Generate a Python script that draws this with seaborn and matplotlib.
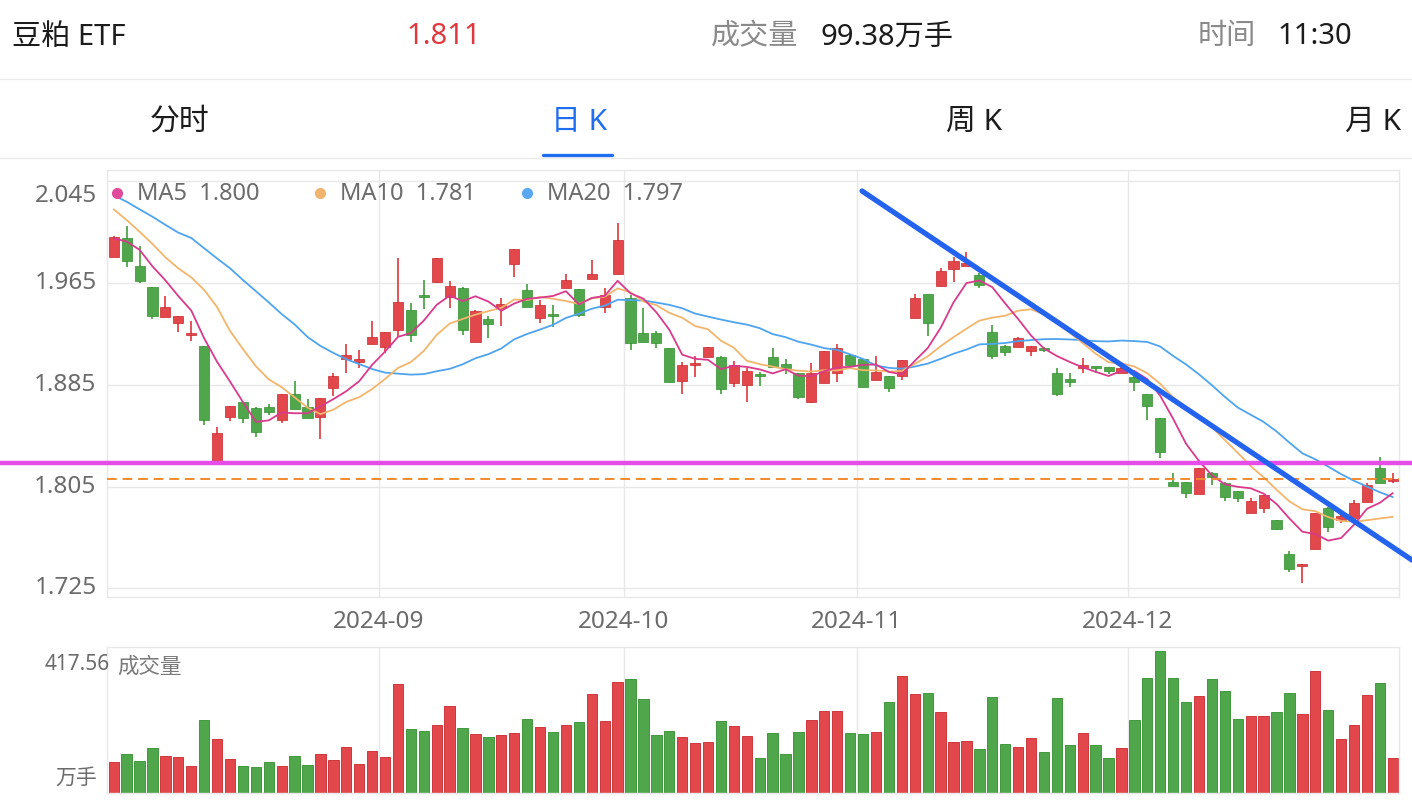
import numpy as np
import pandas as pd
import matplotlib
matplotlib.use("Agg")
import matplotlib.pyplot as plt
import matplotlib.transforms as mtransforms
from matplotlib.lines import Line2D
import seaborn as sns

# ---------------- data ----------------
opens = [1.9857, 2.0001, 1.9786, 1.9621, 1.9380, 1.9338, 1.9238, 1.9157, 1.8235, 1.8599,
         1.8717, 1.8665, 1.8675, 1.8573, 1.8777, 1.8678, 1.8599, 1.8822, 1.9055, 1.9029,
         1.9170, 1.9149, 1.9280, 1.9438, 1.9555, 1.9655, 1.9542, 1.9608, 1.9189, 1.9367,
         1.9451, 1.9799, 1.9595, 1.9372, 1.9404, 1.9608, 1.9600, 1.9681, 1.9464, 1.9718,
         1.9529, 1.9254, 1.9259, 1.9142, 1.8880, 1.9008, 1.9071, 1.9071, 1.8861, 1.8848,
         1.8935, 1.9071, 1.9011, 1.8945, 1.8717, 1.8861, 1.8940, 1.9084, 1.9050, 1.8887,
         1.8919, 1.8919, 1.9372, 1.9561, 1.9626, 1.9760, 1.9783, 1.9712, 1.9267, 1.9155,
         1.9149, 1.9118, 1.9140, 1.8944, 1.8892, 1.8978, 1.8999, 1.8992, 1.8939, 1.8908,
         1.8777, 1.8586, 1.8088, 1.8083, 1.7991, 1.8153, 1.8075, 1.8017, 1.7839, 1.7878,
         1.7787, 1.7517, 1.7428, 1.7556, 1.7878, 1.7787, 1.7800, 1.7931, 1.8193, 1.8096]
highs = [2.0019, 2.0098, 1.9941, 1.9621, 1.9548, 1.9390, 1.9354, 1.9157, 1.8520, 1.8686,
         1.8717, 1.8678, 1.8699, 1.8777, 1.8880, 1.8738, 1.8746, 1.8940, 1.9170, 1.9123,
         1.9351, 1.9267, 1.9849, 1.9490, 1.9673, 1.9849, 1.9665, 1.9621, 1.9438, 1.9393,
         1.9529, 1.9917, 1.9642, 1.9516, 1.9477, 1.9720, 1.9600, 1.9830, 1.9608, 2.0119,
         1.9555, 1.9451, 1.9273, 1.9142, 1.9026, 1.9079, 1.9149, 1.9075, 1.9037, 1.8979,
         1.8953, 1.9142, 1.9050, 1.8945, 1.9024, 1.9115, 1.9170, 1.9084, 1.9050, 1.9076,
         1.8919, 1.9045, 1.9561, 1.9561, 1.9770, 1.9851, 1.9891, 1.9725, 1.9319, 1.9165,
         1.9225, 1.9156, 1.9150, 1.8978, 1.8939, 1.9057, 1.8999, 1.8992, 1.8990, 1.8952,
         1.8777, 1.8586, 1.8153, 1.8083, 1.8198, 1.8166, 1.8088, 1.8017, 1.7957, 1.7983,
         1.7787, 1.7543, 1.7438, 1.7844, 1.7891, 1.7826, 1.7944, 1.8080, 1.8279, 1.8153]
lows = [1.9857, 1.9778, 1.9652, 1.9364, 1.9380, 1.9265, 1.9197, 1.8534, 1.8220, 1.8565,
        1.8552, 1.8442, 1.8612, 1.8547, 1.8657, 1.8586, 1.8426, 1.8764, 1.8945, 1.8979,
        1.9170, 1.9102, 1.9228, 1.9189, 1.9443, 1.9647, 1.9456, 1.9241, 1.9189, 1.9215,
        1.9312, 1.9694, 1.9464, 1.9338, 1.9307, 1.9608, 1.9385, 1.9681, 1.9411, 1.9718,
        1.9123, 1.9189, 1.9136, 1.8874, 1.8777, 1.8914, 1.9071, 1.8775, 1.8835, 1.8717,
        1.8840, 1.8992, 1.8935, 1.8736, 1.8704, 1.8861, 1.8874, 1.9005, 1.8835, 1.8887,
        1.8796, 1.8887, 1.9372, 1.9233, 1.9626, 1.9660, 1.9783, 1.9607, 1.9055, 1.9077,
        1.9149, 1.9076, 1.9106, 1.8764, 1.8834, 1.8939, 1.8939, 1.8931, 1.8939, 1.8803,
        1.8572, 1.8271, 1.8056, 1.7962, 1.7991, 1.8062, 1.7936, 1.7926, 1.7839, 1.7839,
        1.7710, 1.7381, 1.7289, 1.7556, 1.7695, 1.7766, 1.7800, 1.7931, 1.8080, 1.8075]
closes = [2.0009, 1.9825, 1.9665, 1.9393, 1.9459, 1.9390, 1.9259, 1.8573, 1.8468, 1.8686,
          1.8586, 1.8476, 1.8633, 1.8777, 1.8657, 1.8586, 1.8746, 1.8919, 1.9087, 1.9050,
          1.9228, 1.9267, 1.9498, 1.9238, 1.9537, 1.9849, 1.9629, 1.9280, 1.9430, 1.9328,
          1.9485, 1.9917, 1.9464, 1.9477, 1.9393, 1.9673, 1.9398, 1.9718, 1.9555, 1.9988,
          1.9181, 1.9189, 1.9181, 1.8874, 1.9005, 1.9018, 1.9149, 1.8817, 1.9005, 1.8961,
          1.8919, 1.8992, 1.8979, 1.8756, 1.8940, 1.9115, 1.9136, 1.9005, 1.8835, 1.8953,
          1.8822, 1.9045, 1.9529, 1.9338, 1.9747, 1.9825, 1.9804, 1.9633, 1.9072, 1.9109,
          1.9214, 1.9156, 1.9122, 1.8777, 1.8874, 1.9005, 1.8978, 1.8958, 1.8978, 1.8868,
          1.8685, 1.8324, 1.8056, 1.7996, 1.8193, 1.8122, 1.7970, 1.7957, 1.7939, 1.7983,
          1.7716, 1.7399, 1.7438, 1.7844, 1.7729, 1.7818, 1.7923, 1.8062, 1.8080, 1.8110]
volumes = [90.5, 114.0, 94.4, 131.7, 109.1, 106.2, 79.7, 214.2, 159.2, 100.3,
           79.7, 76.7, 89.5, 79.7, 108.2, 82.6, 114.0, 97.3, 135.7, 85.6,
           122.9, 106.2, 319.4, 187.7, 182.8, 199.5, 254.5, 189.7, 172.0, 165.1,
           170.0, 175.9, 218.2, 194.0, 177.9, 199.5, 208.4, 289.9, 212.3, 325.2,
           335.1, 275.2, 169.1, 181.8, 163.2, 146.5, 149.4, 211.3, 197.5, 166.1,
           102.3, 176.0, 113.1, 178.9, 213.3, 239.8, 240.8, 176.0, 173.0, 178.9,
           267.3, 342.9, 289.9, 293.8, 237.8, 150.4, 153.3, 127.8, 281.0, 142.5,
           135.7, 161.2, 120.9, 279.1, 140.6, 176.0, 140.6, 101.3, 132.7, 215.2,
           338.0, 417.56, 338.0, 267.3, 284.0, 335.1, 299.7, 218.2, 227.0, 227.0,
           237.8, 293.8, 231.9, 359.6, 242.7, 158.3, 199.5, 287.9, 322.3, 103.3]
# moving averages before enough in-window history
ma5_head = [2.0000, 1.9975, 1.9910, 1.9780]
ma10_head = [2.0228, 2.0144, 2.0052, 1.9956, 1.9851, 1.9764, 1.9694, 1.9595, 1.9460]
ma20_head = [2.0338, 2.0288, 2.0228, 2.0170, 2.0106, 2.0045, 2.0003, 1.9922, 1.9842, 1.9765,
             1.9673, 1.9585, 1.9497, 1.9405, 1.9324, 1.9225, 1.9155, 1.9100, 1.9050]

holidays = ["2024-09-16", "2024-09-17", "2024-10-01", "2024-10-02",
            "2024-10-03", "2024-10-04", "2024-10-07"]
ytick_vals = [1.725, 1.805, 1.885, 1.965, 2.045]
support_level = 1.8235
last_price = 1.811
trend_start = (57.92, 2.0372)
trend_end = (100.49, 1.7472)

name = "豆粕 ETF"
price_txt = "1.811"
vol_txt = "99.38万手"
time_txt = "11:30"
tabs = ["分时", "日 K", "周 K", "月 K"]

# ---------------- derived ----------------
days = pd.bdate_range("2024-08-02", "2024-12-30")
days = days[~days.isin(pd.to_datetime(holidays))]
n = len(closes)
idx = np.arange(n)
df = pd.DataFrame({"x": idx, "open": opens, "high": highs, "low": lows,
                   "close": closes, "vol": volumes})
df["dir"] = np.where(df["close"] >= df["open"], "up", "down")
cs = pd.Series(closes)
ma5 = np.concatenate([ma5_head, cs.rolling(5).mean().values[len(ma5_head):]])
ma10 = np.concatenate([ma10_head, cs.rolling(10).mean().values[len(ma10_head):]])
ma20 = np.concatenate([ma20_head, cs.rolling(20).mean().values[len(ma20_head):]])

month_start = [i for i in range(1, n) if days[i].month != days[i - 1].month]
month_lbl = [days[i].strftime("%Y-%m") for i in month_start]
month_pos = [i - 0.5 for i in month_start]

# ---------------- style ----------------
sns.set_theme(style="white")
plt.rcParams["font.family"] = ["Noto Sans", "Noto Sans CJK SC", "DejaVu Sans"]

RED = "#e2474b"
GREEN = "#4fa64b"
RED_E = "#c8262c"
GREEN_E = "#2f8f2c"
GRID = "#e8e8e8"
LBL = "#6b6b6b"

W, H = 1412, 802
fig = plt.figure(figsize=(W / 100, H / 100), dpi=100)
fig.patch.set_facecolor("white")

def fx(px):
    return px / W

def fy(py):
    return 1 - py / H

# main price axes
ax = fig.add_axes([fx(107), fy(597), fx(1399) - fx(107), fy(170) - fy(597)])
axv = fig.add_axes([fx(107), fy(792.7), fx(1399) - fx(107), fy(647) - fy(792.7)])

for a in (ax, axv):
    a.set_facecolor("white")
    for s in a.spines.values():
        s.set_color(GRID)
        s.set_linewidth(1)

# candles
col = np.where(df["dir"] == "up", RED, GREEN)
ax.vlines(df["x"], df["low"], df["high"], colors=col, linewidth=1.3, zorder=2)
body_lo = np.minimum(df["open"], df["close"])
body_h = np.maximum(np.abs(df["close"] - df["open"]), 0.0012)
ax.bar(df["x"], body_h, bottom=body_lo, width=0.78, color=col,
       edgecolor=np.where(df["dir"] == "up", RED_E, GREEN_E), linewidth=0.5, zorder=3)

# moving averages
sns.lineplot(x=idx, y=ma20, ax=ax, color="#4ea4ee", linewidth=1.3, zorder=4)
sns.lineplot(x=idx, y=ma10, ax=ax, color="#f2b56c", linewidth=1.3, zorder=4)
sns.lineplot(x=idx, y=ma5, ax=ax, color="#d93a8c", linewidth=1.3, zorder=5)

# reference lines
ax.axhline(last_price, color="#f08a30", linewidth=1.4, dashes=(5, 3), zorder=5)
trans_full = mtransforms.blended_transform_factory(fig.transFigure, ax.transData)
ax.plot([0, 1], [support_level, support_level], transform=trans_full, color="#e64ce8",
        linewidth=3.2, clip_on=False, zorder=6)
ax.plot([trend_start[0], trend_end[0]], [trend_start[1], trend_end[1]], color="#2463ee",
        linewidth=3.8, solid_capstyle="round", clip_on=False, zorder=7)

ax.set_xlim(-0.52, n - 0.52)
ax.set_ylim(1.7182, 2.0537)
ax.set_yticks(ytick_vals)
ax.set_xticks(month_pos)
ax.set_xticklabels(month_lbl)
ax.tick_params(axis="x", length=0, pad=9, labelsize=17.5, labelcolor=LBL)
ax.tick_params(axis="y", length=0, labelleft=False)
ax.grid(True, color=GRID, linewidth=1)
ax.set_xlabel("")
ax.set_ylabel("")

ytrans = ax.get_yaxis_transform()
for v in ytick_vals:
    t = ytrans
    if v == ytick_vals[-1]:
        t = ytrans + mtransforms.ScaledTranslation(0, -0.15, fig.dpi_scale_trans)
    ax.text(-0.008, v, f"{v:.3f}", transform=t, ha="right", va="center",
            fontsize=17.5, color=LBL)

# legend
leg = [("MA5", ma5[-1], "#e04a9a", 117), ("MA10", ma10[-1], "#f0b46c", 320),
       ("MA20", ma20[-1], "#5aa8ef", 527)]
for lab, val, c, px in leg:
    fig.add_artist(Line2D([fx(px)], [fy(193)], marker="o", markersize=7, color=c,
                          linestyle="none"))
    fig.text(fx(px + 20), fy(194), f"{lab}  {val:.3f}", ha="left", va="center",
             fontsize=17, color=LBL)

# volume
sns.barplot(data=df, x="x", y="vol", hue="dir", palette={"up": RED, "down": GREEN},
            native_scale=True, width=0.8, dodge=False, errorbar=None, legend=False,
            saturation=1, ax=axv, linewidth=0)
for p, d in zip(sorted(axv.patches, key=lambda r: r.get_x()), df["dir"]):
    p.set_facecolor(RED if d == "up" else GREEN)
    p.set_edgecolor(RED_E if d == "up" else GREEN_E)
    p.set_linewidth(0.6)
axv.set_xlim(-0.52, n - 0.52)
axv.set_ylim(0, max(volumes) * 145.7 / 141.7)
axv.set_xticks(month_pos)
axv.set_xticklabels([])
axv.set_yticks([])
axv.tick_params(length=0)
axv.grid(True, axis="x", color=GRID, linewidth=1)
axv.set_xlabel("")
axv.set_ylabel("")
fig.text(fx(110), fy(665), f"{max(volumes):.2f}", ha="right", va="center",
         fontsize=15, color=LBL)
fig.text(fx(97), fy(778), "万手", ha="right", va="center", fontsize=15, color=LBL)
fig.text(fx(117), fy(667), "成交量", ha="left", va="center", fontsize=15.5, color="#7a7a7a")

# header
DARK = "#1c1c1c"
HS = 21
fig.text(fx(12), fy(37), name, ha="left", va="center", fontsize=HS, color=DARK)
fig.text(fx(406), fy(37), price_txt, ha="left", va="center", fontsize=HS, color="#e0383e")
fig.text(fx(711), fy(37), "成交量", ha="left", va="center", fontsize=HS, color="#8a8a8a")
fig.text(fx(820), fy(37), vol_txt, ha="left", va="center", fontsize=HS, color=DARK)
fig.text(fx(1198), fy(37), "时间", ha="left", va="center", fontsize=HS, color="#8a8a8a")
fig.text(fx(1277), fy(37), time_txt, ha="left", va="center", fontsize=HS, color=DARK)
fig.add_artist(Line2D([0, 1], [fy(79), fy(79)], color="#ebebeb", linewidth=1))

tab_x = [150, 551, 946, 1345]
for t, px in zip(tabs, tab_x):
    fig.text(fx(px), fy(122), t, ha="left", va="center", fontsize=21.5,
             color="#1f6ef0" if t == tabs[1] else DARK)
fig.add_artist(Line2D([fx(543), fx(612)], [fy(155), fy(155)], color="#1f6ef0",
                      linewidth=2.4))
fig.add_artist(Line2D([0, 1], [fy(158), fy(158)], color="#ebebeb", linewidth=1))

fig.savefig("out.png", dpi=100, facecolor="white")
